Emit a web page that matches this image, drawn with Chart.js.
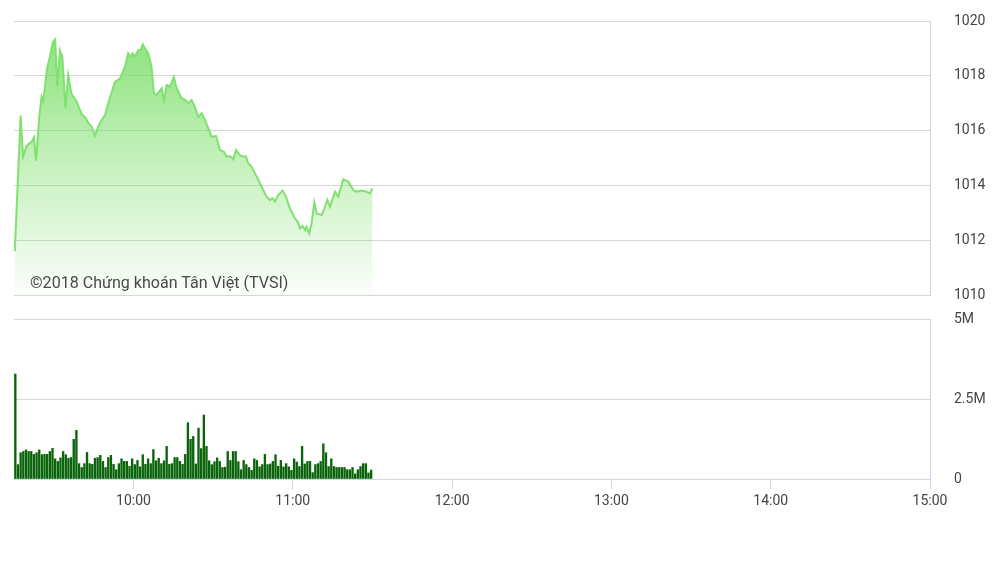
<!DOCTYPE html>
<html>
<head>
<meta charset="utf-8">
<script src="https://cdn.jsdelivr.net/npm/chart.js@4.4.1/dist/chart.umd.min.js"></script>
<style>
  body { margin: 0; background: #fff; }
  #wrap { position: relative; width: 1007px; height: 566px; overflow: hidden; }
  #price { position: absolute; left: 0; top: 0; }
  #volume { position: absolute; left: 0; top: 305px; }
  #credit { position: absolute; left: 30px; top: 274px; font-family: Roboto; font-size: 17px; line-height: 1; color: #4a4a4a; transform-origin: 0 0; white-space: nowrap; }
</style>
</head>
<body>
<div id="wrap">
  <canvas id="price" width="1007" height="310"></canvas>
  <canvas id="volume" width="1007" height="261"></canvas>
  <div id="credit">©2018 Chứng khoán Tân Việt (TVSI)</div>
</div>
<script>
// session 9:15 -> 15:00, minutes since midnight
const sessionStart = 9 * 60 + 15;
const sessionEnd = 15 * 60;
const hourTicks = [600, 660, 720, 780, 840, 900];
const hourLabels = ['10:00', '11:00', '12:00', '13:00', '14:00', '15:00'];
const priceTicks = [1010, 1012, 1014, 1016, 1018, 1020];
const volumeTicks = [0, 2.5, 5];

// VN-Index intraday (minutes after 9:15, index points)
const priceMin = [
  0.3, 2.5, 3.4, 4.8, 6.7, 7.5, 8.3, 9.5, 10.4, 11.0,
  12.5, 13.5, 14.6, 15.5, 16.3, 17.3, 18.2, 19.4, 20.4, 21.6,
  23.6, 25.5, 27.1, 28.0, 29.3, 30.5, 31.7, 33.0, 34.3, 35.5,
  38.0, 39.9, 41.8, 43.0, 44.0, 44.7, 45.6, 46.8, 47.7, 48.5,
  49.3, 50.6, 51.8, 52.7, 53.7, 55.6, 56.5, 57.5, 58.7, 60.2,
  61.3, 63.1, 64.4, 65.6, 66.9, 68.1, 69.4, 70.7, 71.9, 73.2,
  74.4, 76.1, 77.6, 79.1, 80.1, 81.3, 82.6, 83.6, 85.1, 86.3,
  87.3, 88.2, 89.5, 91.4, 93.3, 95.1, 96.4, 97.4, 98.3, 99.5,
  101.2, 102.4, 103.9, 105.8, 106.8, 107.7, 108.7, 109.6, 110.2, 111.2,
  112.1, 113.1, 114.0, 115.9, 117.1, 118.0, 119.0, 120.9, 122.1, 124.0,
  125.9, 127.8, 129.0, 130.9, 132.8, 134.0, 135.0
];
const priceVal = [
  1011.6, 1016.55, 1015.05, 1015.45, 1015.6, 1015.75, 1014.9, 1016.5, 1017.24, 1017.08,
  1018.3, 1018.7, 1019.22, 1019.33, 1017.6, 1018.93, 1018.7, 1016.82, 1018.03, 1017.35,
  1017.05, 1016.6, 1016.45, 1016.27, 1016.14, 1015.82, 1016.14, 1016.39, 1016.57, 1017.0,
  1017.78, 1017.9, 1018.33, 1018.82, 1018.7, 1018.82, 1018.7, 1018.94, 1018.94, 1019.15,
  1019.0, 1018.82, 1018.33, 1017.36, 1017.3, 1017.54, 1017.12, 1017.66, 1017.6, 1017.95,
  1017.54, 1017.18, 1017.12, 1017.0, 1017.12, 1016.87, 1016.5, 1016.63, 1016.39, 1016.08,
  1015.78, 1015.8, 1015.29, 1015.23, 1015.05, 1015.07, 1014.95, 1015.29, 1015.1, 1015.05,
  1015.07, 1014.81, 1014.68, 1014.32, 1013.95, 1013.59, 1013.47, 1013.53, 1013.41, 1013.65,
  1013.81, 1013.59, 1013.16, 1012.8, 1012.68, 1012.43, 1012.52, 1012.37, 1012.49, 1012.25,
  1012.62, 1013.38, 1012.98, 1012.92, 1013.22, 1013.47, 1013.22, 1013.77, 1013.59, 1014.22,
  1014.14, 1013.83, 1013.77, 1013.81, 1013.77, 1013.71, 1013.89
];

// volume per minute from 9:15, in millions of shares
const volume = [
  3.28, 0.45, 0.82, 0.86, 0.91, 0.86, 0.86, 0.77, 0.82, 0.91,
  0.76, 0.77, 0.77, 0.86, 0.96, 0.63, 0.55, 0.66, 0.86, 0.76,
  0.65, 0.67, 1.24, 1.52, 0.48, 0.36, 0.48, 0.83, 0.48, 0.46,
  0.65, 0.67, 0.74, 0.55, 0.36, 0.67, 0.74, 0.46, 0.29, 0.48,
  0.63, 0.55, 0.55, 0.40, 0.63, 0.45, 0.58, 0.38, 0.76, 0.46,
  0.63, 0.48, 0.92, 0.57, 0.65, 0.48, 0.57, 1.02, 0.46, 0.48,
  0.67, 0.67, 0.55, 0.46, 0.77, 1.76, 1.24, 1.33, 0.47, 1.59,
  0.95, 2.00, 1.02, 0.57, 0.45, 0.54, 0.66, 0.55, 0.36, 0.37,
  0.86, 0.58, 0.86, 0.86, 0.54, 0.29, 0.58, 0.45, 0.36, 0.27,
  0.63, 0.58, 0.38, 0.45, 0.77, 0.45, 0.47, 0.55, 0.76, 0.40,
  0.58, 0.38, 0.48, 0.38, 0.27, 0.63, 0.53, 0.39, 1.02, 0.47,
  0.55, 0.55, 0.20, 0.45, 0.48, 0.55, 1.10, 0.82, 0.39, 0.63,
  0.39, 0.36, 0.36, 0.36, 0.36, 0.29, 0.29, 0.36, 0.16, 0.29,
  0.39, 0.48, 0.48, 0.19, 0.28
];

Chart.defaults.font.family = 'Roboto';
Chart.defaults.font.size = 14;
Chart.defaults.color = '#444';
Chart.defaults.animation = false;

const gridColor = '#d6d6d6';
const axisColor = '#ccd6eb';

const fillGradient = (ctx) => {
  const area = ctx.chart.chartArea;
  if (!area) return 'rgba(120, 222, 100, 0.4)';
  const g = ctx.chart.ctx.createLinearGradient(0, area.top, 0, area.bottom);
  g.addColorStop(0, 'rgba(120, 222, 100, 0.9)');
  g.addColorStop(0.55, 'rgba(120, 222, 100, 0.4)');
  g.addColorStop(1, 'rgba(120, 222, 100, 0.03)');
  return g;
};

// right-hand value axis: labels pushed out by an invisible tick mark,
// ticks.padding would also pad the chart area top/bottom
const rightAxis = (min, max, tickValues, fmt) => ({
  position: 'right',
  min: min,
  max: max,
  afterFit: (s) => { s.width = 77; },
  afterBuildTicks: (s) => { s.ticks = tickValues.map(v => ({ value: v })); },
  grid: {
    color: (c) => c.tick && c.tick.value === 0 ? 'rgba(0,0,0,0)' : gridColor,
    drawTicks: true,
    tickLength: 24,
    tickColor: 'rgba(0,0,0,0)'
  },
  border: { color: axisColor },
  ticks: { padding: 0, callback: fmt }
});

new Chart(document.getElementById('price'), {
  type: 'line',
  data: {
    datasets: [{
      data: priceMin.map((m, i) => ({ x: sessionStart + m, y: priceVal[i] })),
      borderColor: '#80e070',
      borderWidth: 2,
      backgroundColor: fillGradient,
      fill: 'start',
      pointRadius: 0,
      tension: 0
    }]
  },
  options: {
    responsive: false,
    layout: { padding: { left: 14, top: 21, bottom: 15, right: 0 } },
    plugins: { legend: { display: false }, tooltip: { enabled: false } },
    scales: {
      x: { type: 'linear', min: sessionStart, max: sessionEnd, display: false },
      y: rightAxis(1010, 1020, priceTicks, (v) => String(v))
    }
  }
});

new Chart(document.getElementById('volume'), {
  type: 'bar',
  data: {
    datasets: [{
      data: volume.map((v, i) => ({ x: sessionStart + i + 0.5, y: v })),
      backgroundColor: '#0a640a',
      barThickness: 1.7
    }]
  },
  options: {
    responsive: false,
    layout: { padding: { left: 14, top: 14, bottom: 0, right: 0 } },
    plugins: { legend: { display: false }, tooltip: { enabled: false } },
    scales: {
      x: {
        type: 'linear',
        min: sessionStart,
        max: sessionEnd,
        offset: false,
        afterFit: (s) => { s.height = 87; },
        afterBuildTicks: (s) => { s.ticks = hourTicks.map(v => ({ value: v })); },
        grid: { offset: false, drawOnChartArea: false, drawTicks: true, tickLength: 10, color: axisColor },
        border: { color: axisColor },
        ticks: {
          autoSkip: false,
          maxRotation: 0,
          padding: 4,
          callback: (v) => hourLabels[hourTicks.indexOf(v)]
        }
      },
      y: rightAxis(0, 5, volumeTicks, (v) => v === 0 ? '0' : v + 'M')
    }
  }
});

// squeeze the credit line to the condensed width of the original
const credit = document.getElementById('credit');
credit.style.transform = 'scaleX(' + (258 / credit.offsetWidth) + ')';
</script>
</body>
</html>
